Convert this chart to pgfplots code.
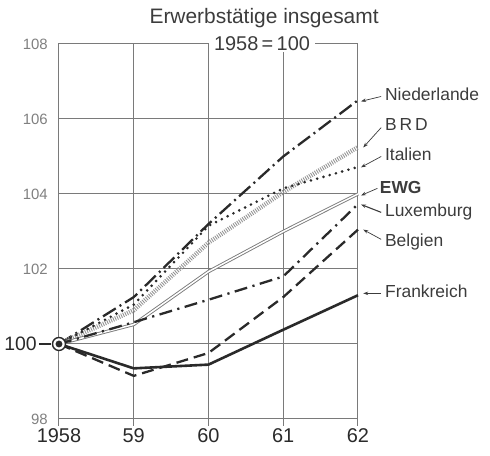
\documentclass[border=0pt]{standalone}
\usepackage{pgfplots}
\pgfplotsset{compat=1.18}
\usepackage{fontspec}
\setmainfont{Liberation Sans}
\usetikzlibrary{arrows.meta}
\definecolor{ink}{HTML}{2A2A2A}
\definecolor{gridc}{HTML}{7A7A7A}
\definecolor{txt}{HTML}{3C3C3C}
\definecolor{hatch}{HTML}{959595}
\tikzset{
  lab/.style={anchor=west, inner sep=0pt, text=txt, font=\fontsize{17.5}{19}\selectfont},
  arr/.style={-{Stealth[length=5bp,width=3.5bp]}, txt, line width=0.7bp},
}
\begin{document}
\begin{tikzpicture}
\begin{axis}[
  scale only axis, width=299bp, height=375bp,
  xmin=0, xmax=4, ymin=98, ymax=108,
  xtick={0,1,2,3,4}, xticklabels={1958,59,60,61,62},
  ytick={98,100,102,104,106,108},
  yticklabels={98,{\color{ink}\fontsize{19.5}{21}\selectfont 100\rule{11bp}{0pt}},102,104,106,108},
  grid=major, major grid style={gridc, line width=1bp},
  axis line style={gridc, line width=1bp},
  tick pos=left, tick align=outside, major tick length=7bp,
  xtick style={gridc, line width=1bp},
  ytick style={draw=none},
  clip=false,
  /pgf/number format/assume math mode=true,
  xticklabel style={font=\fontsize{20}{22}\selectfont, text=ink, inner sep=0pt, yshift=-2bp},
  yticklabel style={font=\fontsize{15}{17}\selectfont, text=gray, inner sep=0pt},
  yticklabel shift=4bp,
]
% Niederlande
\addplot[ink, line width=2.3bp, dash pattern=on 15bp off 4.5bp on 2bp off 4.5bp] coordinates {(0,100) (1,101.25) (2,103.2) (3,105.0) (4,106.5)};
% BRD
\addplot[hatch, line width=4.5bp, dash pattern=on 0.9bp off 1.3bp] coordinates {(0,100) (1,100.9) (2,102.7) (3,104.05) (4,105.25)};
% Italien
\addplot[ink, line width=2.9bp, line cap=round, dash pattern=on 0bp off 6.5bp] coordinates {(0,100) (1,101.05) (2,103.15) (3,104.15) (4,104.72)};
% EWG
\addplot[gridc, line width=0.9bp, double=white, double distance=1.5bp] coordinates {(0,100) (1,100.52) (2,101.93) (3,103.0) (4,104.0)};
% Luxemburg
\addplot[ink, line width=2.3bp, dash pattern=on 13bp off 5.5bp on 2.2bp off 5.5bp] coordinates {(0,100) (1,100.58) (2,101.18) (3,101.8) (4,103.73)};
% Belgien
\addplot[ink, line width=2.3bp, dash pattern=on 12bp off 6bp] coordinates {(0,100) (1,99.15) (2,99.76) (3,101.25) (4,103.05)};
% Frankreich
\addplot[ink, line width=2.6bp] coordinates {(0,100) (1,99.35) (2,99.45) (3,100.38) (4,101.3)};
% base point
\addplot[only marks, mark=*, mark size=6.5bp, mark options={fill=white, draw=ink, line width=1.4bp}] coordinates {(0,100)};
\addplot[only marks, mark=*, mark size=3.2bp, mark options={fill=ink, draw=ink}] coordinates {(0,100)};
\draw[ink, line width=1.4bp] ([xshift=-20bp]axis cs:0,100) -- ([xshift=-8bp]axis cs:0,100);

% titles
\node[text=txt, font=\fontsize{21}{23}\selectfont, inner sep=0pt] at (rel axis cs:0.686,1.069) {Erwerbstätige insgesamt};
\node[text=txt, font=\fontsize{20}{22}\selectfont, fill=white, inner xsep=5bp, inner ysep=1bp] at (rel axis cs:0.679,1.0) {1958\,=\,100};

% labels
\node[lab] at (axis cs:4.36,106.65) {Niederlande};
\draw[arr] (axis cs:4.31,106.6) -- (axis cs:4.04,106.47);
\node[lab] at (axis cs:4.36,105.85) {B\,R\,D};
\draw[arr] (axis cs:4.31,105.77) -- (axis cs:4.07,105.24);
\node[lab] at (axis cs:4.36,105.05) {Italien};
\draw[arr] (axis cs:4.31,105.0) -- (axis cs:4.04,104.71);
\node[lab, font=\bfseries\fontsize{17.5}{19}\selectfont] at (axis cs:4.29,104.17) {EWG};
\draw[arr] (axis cs:4.26,104.15) -- (axis cs:4.04,103.96);
\node[lab] at (axis cs:4.36,103.51) {Luxemburg};
\draw[arr, line width=1.1bp] (axis cs:4.31,103.51) -- (axis cs:4.04,103.72);
\node[lab] at (axis cs:4.36,102.73) {Belgien};
\draw[arr] (axis cs:4.31,102.79) -- (axis cs:4.07,103.05);
\node[lab] at (axis cs:4.36,101.4) {Frankreich};
\draw[arr] (axis cs:4.31,101.35) -- (axis cs:4.07,101.35);

\coordinate (bbl) at (rel axis cs:-0.1973,-0.0987);
\coordinate (btr) at (rel axis cs:1.4415,1.1173);
\end{axis}
\pgfresetboundingbox
\path[use as bounding box] (bbl) rectangle (btr);
\end{tikzpicture}
\end{document}
